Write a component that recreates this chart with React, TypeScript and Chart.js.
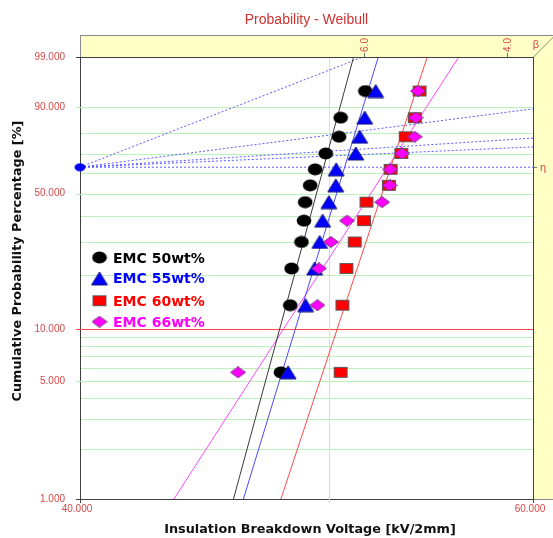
import React, { useEffect, useRef } from 'react';
import { Chart, registerables } from 'chart.js';
Chart.register(...registerables);

// ---------- data ----------
const SERIES_NAMES = ['EMC 50wt%', 'EMC 55wt%', 'EMC 60wt%', 'EMC 66wt%'];
// median-rank plotting positions (%) shared by every series (12 specimens)
const RANK_PCT = [5.65, 13.71, 21.77, 29.84, 37.9, 45.97, 54.03, 62.1, 70.16, 78.23, 86.29, 94.35];
const EMC50 = [47.88, 48.28, 48.34, 48.77, 48.88, 48.93, 49.15, 49.37, 49.84, 50.44, 50.51, 51.64];
const EMC55 = [48.19, 48.95, 49.35, 49.57, 49.7, 49.98, 50.29, 50.31, 51.2, 51.38, 51.61, 52.12];
const EMC60 = [50.51, 50.59, 50.77, 51.15, 51.58, 51.69, 52.74, 52.82, 53.33, 53.54, 53.98, 54.21];
const EMC66 = [46.08, 49.47, 49.54, 50.07, 50.8, 52.42, 52.78, 52.81, 53.36, 53.97, 54.02, 54.13];
// fitted Weibull lines: voltage at 1 % and at 99 %
const FIT_PCT = [1, 99];
const FIT50 = [45.89, 51.1];
const FIT55 = [46.3, 52.24];
const FIT60 = [47.88, 54.58];
const FIT66 = [43.51, 56.14];
// beta-estimation fan from the pole
const POLE_X = 40;
const POLE_PCT = 63.2;
const FAN_END_X = [51.52, 60, 60, 60, 60];
const FAN_END_PCT = [99, 89.4, 77.6, 73.4, 63.2];
// axes
const X_TICKS = [40, 50, 60];
const X_TICK_TEXT = ['40.000', '', '60.000'];
const X_GRID = [50];
const Y_GRID_PCT = [1, 2, 3, 4, 5, 6, 7, 8, 9, 10, 20, 30, 40, 50, 60, 70, 80, 90, 99];
const Y_LABELED = [1, 5, 10, 50, 90, 99];
const BETA_TICKS = [6.0, 4.0];

// ---------- styles ----------
const GREEN = '#bdf0bd';
const RED_LINE = '#ff4545';
const TICK_RED = '#d44848';
const YELLOW = '#ffffc6';
const FRAME = '#404040';
const NONE = 'rgba(0,0,0,0)';

const W = (p: number) => Math.log(-Math.log(1 - p / 100));

function makeMarker(kind: string): HTMLCanvasElement {
  const c = document.createElement('canvas');
  const ctx = c.getContext('2d')!;
  if (kind === 'circle') {
    c.width = 16; c.height = 13;
    ctx.fillStyle = '#000000';
    ctx.beginPath(); ctx.ellipse(8, 6.5, 7.3, 5.9, 0, 0, Math.PI * 2); ctx.fill();
  } else if (kind === 'triangle') {
    c.width = 18; c.height = 15;
    ctx.fillStyle = '#0000ff'; ctx.strokeStyle = '#1c1c7a'; ctx.lineWidth = 1;
    ctx.beginPath(); ctx.moveTo(9, 1); ctx.lineTo(17, 14); ctx.lineTo(1, 14); ctx.closePath();
    ctx.fill(); ctx.stroke();
  } else if (kind === 'square') {
    c.width = 16; c.height = 13;
    ctx.fillStyle = '#ff0000'; ctx.strokeStyle = '#606060'; ctx.lineWidth = 1;
    ctx.fillRect(1, 1, 14, 11); ctx.strokeRect(1.5, 1.5, 13, 10);
  } else if (kind === 'diamond') {
    c.width = 16; c.height = 12;
    ctx.fillStyle = '#ff00ff'; ctx.strokeStyle = '#7a3a7a'; ctx.lineWidth = 1;
    ctx.beginPath(); ctx.moveTo(8, 0.5); ctx.lineTo(15.5, 6); ctx.lineTo(8, 11.5); ctx.lineTo(0.5, 6); ctx.closePath();
    ctx.fill(); ctx.stroke();
  } else {
    c.width = 12; c.height = 9;
    ctx.fillStyle = '#0000ff';
    ctx.beginPath(); ctx.ellipse(6, 4.5, 5.5, 4, 0, 0, Math.PI * 2); ctx.fill();
  }
  return c;
}

export default function App() {
  const ref = useRef<HTMLCanvasElement | null>(null);

  useEffect(() => {
    if (!ref.current) return;
    const markers = [makeMarker('circle'), makeMarker('triangle'), makeMarker('square'), makeMarker('diamond')];
    const pole = makeMarker('pole');
    const seriesX = [EMC50, EMC55, EMC60, EMC66];
    const fits = [FIT50, FIT55, FIT60, FIT66];
    const lineColors = ['#3a3a3a', '#4a4aff', '#ff4a4a', '#ff4aff'];
    const textColors = ['#000000', '#0000ff', '#ff0000', '#ff00ff'];

    const datasets: any[] = [];
    fits.forEach((f, i) => {
      datasets.push({
        data: f.map((x, k) => ({ x, y: W(FIT_PCT[k]) })),
        showLine: true, borderColor: lineColors[i], borderWidth: 1, pointRadius: 0, order: 20,
      });
    });
    FAN_END_X.forEach((ex, i) => {
      datasets.push({
        data: [{ x: POLE_X, y: W(POLE_PCT) }, { x: ex, y: W(FAN_END_PCT[i]) }],
        showLine: true, borderColor: '#5a5aff', borderWidth: 1, borderDash: [2, 2], pointRadius: 0, order: 20,
      });
    });
    datasets.push({
      data: [{ x: POLE_X, y: W(POLE_PCT) }], pointStyle: pole, pointRadius: 5, clip: false, order: 15,
    });
    seriesX.forEach((xs, i) => {
      datasets.push({
        label: SERIES_NAMES[i],
        data: xs.map((x, k) => ({ x, y: W(RANK_PCT[k]) })),
        pointStyle: markers[i], pointRadius: 7, showLine: false, order: 4 - i,
      });
    });

    const decor = {
      id: 'decor',
      beforeDraw(chart: any) {
        const ctx = chart.ctx; const a = chart.chartArea;
        ctx.save();
        ctx.fillStyle = '#ffffff'; ctx.fillRect(0, 0, chart.width, chart.height);
        ctx.fillStyle = YELLOW;
        ctx.fillRect(a.left, 35, chart.width - a.left, a.top - 35);
        ctx.fillRect(a.right, a.top, chart.width - a.right, a.bottom - a.top);
        ctx.strokeStyle = '#8a8a8a'; ctx.lineWidth = 1;
        ctx.beginPath();
        ctx.moveTo(a.left, 35.5); ctx.lineTo(chart.width, 35.5);
        ctx.moveTo(a.left + 0.5, 35); ctx.lineTo(a.left + 0.5, a.top);
        ctx.moveTo(a.right + 0.5, a.top); ctx.lineTo(a.right + 21, a.top - 20.5);
        ctx.moveTo(a.right, a.bottom + 0.5); ctx.lineTo(chart.width, a.bottom + 0.5);
        ctx.stroke();
        ctx.restore();
      },
      beforeDatasetsDraw(chart: any) {
        const ctx = chart.ctx; const a = chart.chartArea;
        const xs = chart.scales.x; const ys = chart.scales.y;
        ctx.save();
        ctx.lineWidth = 1;
        ctx.setLineDash([]);
        Y_GRID_PCT.forEach((p) => {
          const y = Math.round(ys.getPixelForValue(W(p))) + 0.5;
          const labeled = Y_LABELED.indexOf(p) >= 0;
          const edge = p === 1 || p === 99;
          ctx.strokeStyle = p === 10 ? RED_LINE : edge ? FRAME : GREEN;
          ctx.beginPath();
          ctx.moveTo(labeled ? a.left - 4 : a.left + 1, y);
          ctx.lineTo(edge ? a.left : a.right, y);
          ctx.stroke();
        });
        X_GRID.forEach((v) => {
          const x = Math.round(xs.getPixelForValue(v)) + 0.5;
          ctx.strokeStyle = GREEN;
          ctx.beginPath(); ctx.moveTo(x, a.top + 1); ctx.lineTo(x, a.bottom + 4); ctx.stroke();
        });
        [40, 60].forEach((v) => {
          const x = Math.round(xs.getPixelForValue(v)) + 0.5;
          ctx.strokeStyle = FRAME;
          ctx.beginPath(); ctx.moveTo(x, a.bottom); ctx.lineTo(x, a.bottom + 4); ctx.stroke();
        });
        ctx.restore();
      },
      afterDraw(chart: any) {
        const ctx = chart.ctx; const a = chart.chartArea;
        const xs = chart.scales.x; const ys = chart.scales.y;
        ctx.save();
        // frame
        ctx.strokeStyle = FRAME; ctx.lineWidth = 1;
        ctx.beginPath();
        ctx.moveTo(a.left - 4, Math.round(a.top) + 0.5); ctx.lineTo(a.right + 1, Math.round(a.top) + 0.5);
        ctx.moveTo(Math.round(a.right) + 0.5, a.top); ctx.lineTo(Math.round(a.right) + 0.5, a.bottom + 1);
        ctx.stroke();
        // beta scale on top band
        ctx.fillStyle = TICK_RED; ctx.strokeStyle = '#707070';
        ctx.font = '10px "Liberation Sans"';
        BETA_TICKS.forEach((b) => {
          const px = Math.round(xs.getPixelForValue(POLE_X * Math.exp(W(99) / b))) + 0.5;
          ctx.beginPath(); ctx.moveTo(px, a.top); ctx.lineTo(px, a.top - 4); ctx.stroke();
          ctx.save(); ctx.translate(px + 1, 45); ctx.rotate(-Math.PI / 2);
          ctx.textAlign = 'center'; ctx.textBaseline = 'middle';
          ctx.fillText(b.toFixed(1), 0, 0); ctx.restore();
        });
        ctx.font = '11px "Liberation Sans"'; ctx.textAlign = 'center'; ctx.textBaseline = 'middle';
        ctx.fillText('\u03b2', a.right + 3, 45);
        // eta tick on right band
        const ey = Math.round(ys.getPixelForValue(W(POLE_PCT))) + 0.5;
        ctx.beginPath(); ctx.moveTo(a.right, ey); ctx.lineTo(a.right + 4, ey); ctx.stroke();
        ctx.fillText('\u03b7', a.right + 10, ey);
        // title
        ctx.fillStyle = '#cc3333'; ctx.font = '14px "Liberation Sans"';
        ctx.textAlign = 'center'; ctx.textBaseline = 'alphabetic';
        ctx.fillText('Probability - Weibull', (a.left + a.right) / 2, 23.5);
        // axis titles
        ctx.fillStyle = '#111111'; ctx.font = 'bold 12.8px "DejaVu Sans"';
        ctx.fillText('Insulation Breakdown Voltage [kV/2mm]', 310, 533);
        ctx.save(); ctx.translate(20.5, 261); ctx.rotate(-Math.PI / 2);
        ctx.fillText('Cumulative Probability Percentage [%]', 0, 0); ctx.restore();
        // legend
        const baselines = [262.7, 283.3, 305.5, 326.5];
        const my = [257.5, 278.5, 300.7, 321.7];
        ctx.font = 'bold 14px "DejaVu Sans"'; ctx.textAlign = 'left';
        SERIES_NAMES.forEach((n, i) => {
          const m = markers[i];
          ctx.drawImage(m, 99.5 - m.width / 2, my[i] - m.height / 2);
          ctx.fillStyle = textColors[i];
          ctx.fillText(n, 113, baselines[i]);
        });
        ctx.restore();
      },
    };

    const chart = new Chart(ref.current, {
      type: 'scatter',
      data: { datasets },
      plugins: [decor],
      options: {
        responsive: false,
        animation: false,
        events: [],
        layout: { padding: { top: 57, right: 20, left: 0, bottom: 0 } },
        plugins: { legend: { display: false }, tooltip: { enabled: false }, title: { display: false } },
        scales: {
          x: {
            type: 'logarithmic', min: 40, max: 60,
            afterBuildTicks: (s: any) => { s.ticks = X_TICKS.map((v) => ({ value: v })); },
            afterFit: (s: any) => { s.height = 39; },
            grid: { drawOnChartArea: false, tickLength: 4, tickColor: NONE, color: NONE },
            border: { color: FRAME, width: 1 },
            ticks: {
              callback: (_v: any, i: number) => X_TICK_TEXT[i],
              color: TICK_RED, font: { family: '"Liberation Sans"', size: 10 },
              padding: 0, maxRotation: 0, autoSkip: false, labelOffset: -3,
            },
          },
          y: {
            type: 'linear', min: W(1), max: W(99),
            afterBuildTicks: (s: any) => { s.ticks = Y_GRID_PCT.map((p) => ({ value: W(p) })); },
            afterFit: (s: any) => { s.width = 80; },
            grid: { drawOnChartArea: false, tickLength: 4, tickColor: NONE, color: NONE },
            border: { color: FRAME, width: 1 },
            ticks: {
              callback: (_v: any, i: number) => {
                const p = Y_GRID_PCT[i];
                return Y_LABELED.indexOf(p) >= 0 ? p.toFixed(3) : '';
              },
              color: TICK_RED, font: { family: '"Liberation Sans"', size: 10 },
              padding: 11, autoSkip: false,
            },
          },
        },
      } as any,
    });
    return () => chart.destroy();
  }, []);

  return (
    <div style={{ position: 'absolute', left: 0, top: 0, width: 553, height: 538 }}>
      <canvas ref={ref} width={553} height={538} style={{ display: 'block' }} />
    </div>
  );
}
